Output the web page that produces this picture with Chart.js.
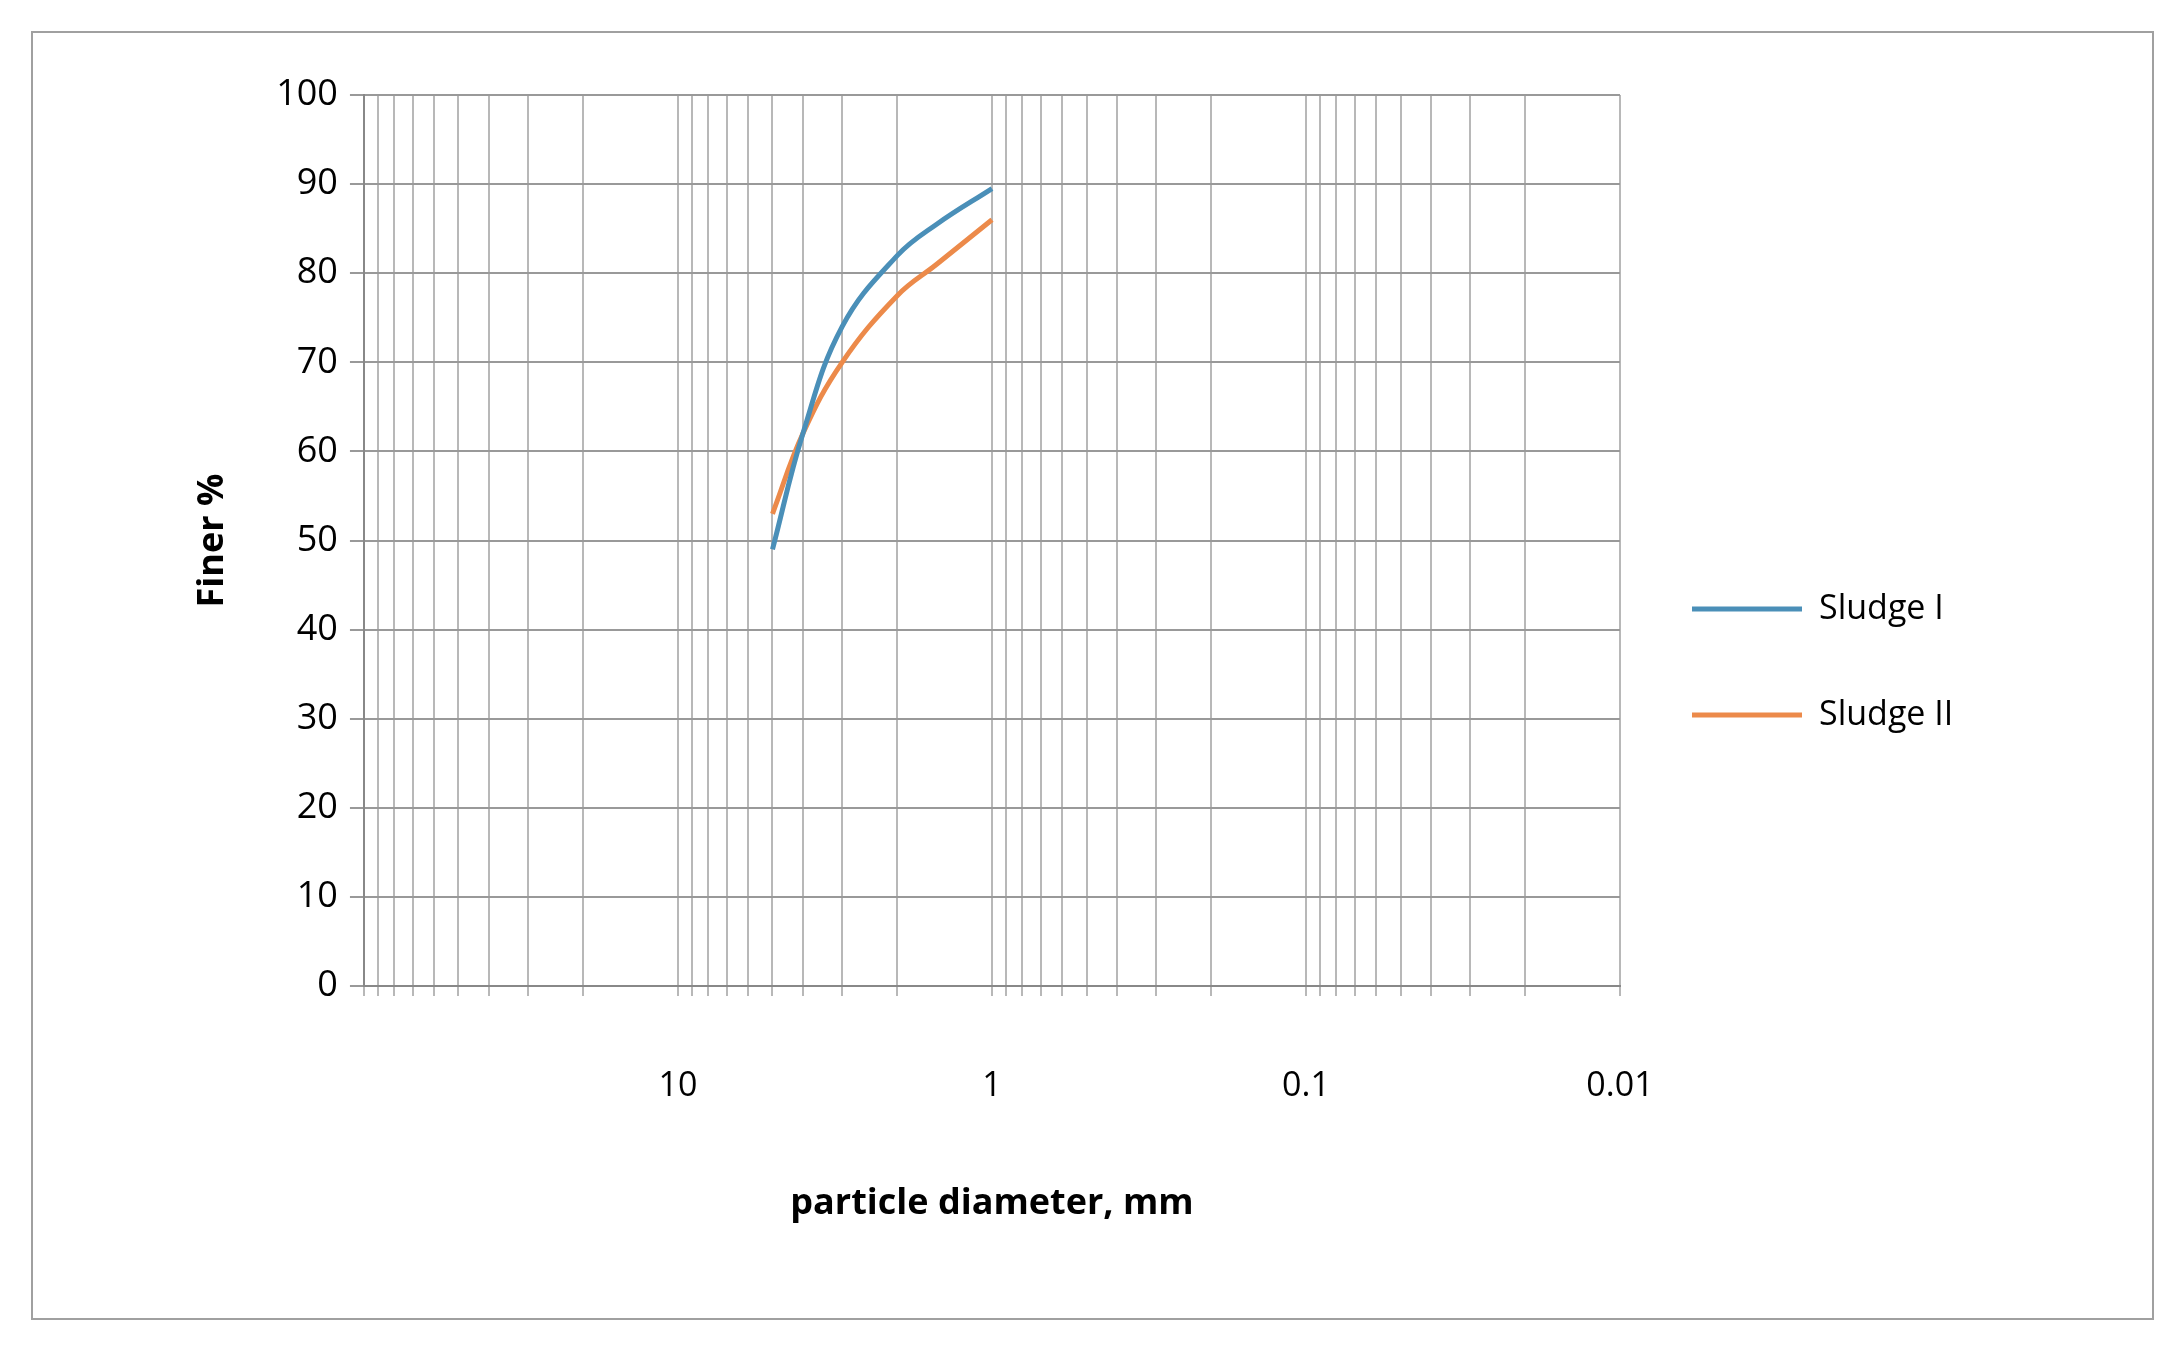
<!DOCTYPE html>
<html>
<head>
<meta charset="utf-8">
<script src="https://cdn.jsdelivr.net/npm/chart.js@4"></script>
<style>
  body { margin: 0; background: #fff; }
  #box { position: absolute; left: 31px; top: 31px; width: 2119px; height: 1285px; border: 2px solid #a0a0a0; }
  #wrap { position: absolute; left: 0; top: 0; width: 2183px; height: 1354px; }
</style>
</head>
<body>
<div id="box"></div>
<div id="wrap"><canvas id="sieve__graph"></canvas></div>
<script>
const sludge1X = [5, 4, 3, 2, 1.5, 1];
const sludge1Y = [49, 62, 74, 82, 85.5, 89.5];
const sludge2X = [5, 4, 3, 2, 1.5, 1];
const sludge2Y = [53, 62, 70, 77.5, 81, 86];
const xLabels = [10, 1, 0.1, 0.01];

const toPoints = (xs, ys) => xs.map((x, i) => ({ x: x, y: ys[i] }));

// widen the legend box so the plot area ends where it does in the original
const legendWidth = {
  id: "legendWidth",
  beforeInit(chart) {
    const fit = chart.legend.fit;
    chart.legend.fit = function () {
      fit.call(this);
      this.width = 540;
    };
  },
};

const sieveGraph = () => {
  let ctx = document.getElementById("sieve__graph").getContext("2d");
  let myChart = new Chart(ctx, {
    type: "line",
    plugins: [legendWidth],
    data: {
      datasets: [
        {
          label: "Sludge I",
          data: toPoints(sludge1X, sludge1Y),
          borderColor: "#4a8fb8",
          backgroundColor: "#4a8fb8",
          borderWidth: 5,
          pointRadius: 0,
          tension: 0.4,
        },
        {
          label: "Sludge II",
          data: toPoints(sludge2X, sludge2Y),
          borderColor: "#ec8a4a",
          backgroundColor: "#ec8a4a",
          borderWidth: 5,
          pointRadius: 0,
          tension: 0.4,
        },
      ],
    },
    options: {
      responsive: true,
      maintainAspectRatio: false,
      animation: false,
      layout: { padding: { left: 187, right: 23, top: 95, bottom: 125 } },
      plugins: {
        legend: {
          position: "right",
          labels: {
            boxWidth: 110,
            boxHeight: 0,
            padding: 72,
            color: "#000",
            font: { family: "Open Sans", size: 34 },
          },
        },
        tooltip: { enabled: false },
      },
      scales: {
        x: {
          type: "logarithmic",
          reverse: true,
          min: 0.01,
          max: 100,
          afterBuildTicks: (axis) => {
            let ticks = [];
            for (let e = -2; e < 2; e++) {
              for (let m = 1; m < 10; m++) ticks.push({ value: m * Math.pow(10, e) });
            }
            ticks.push({ value: 100 });
            axis.ticks = ticks;
          },
          ticks: {
            autoSkip: false,
            maxRotation: 0,
            padding: 70,
            color: "#000",
            font: { family: "Open Sans", size: 34 },
            callback: (v) => (xLabels.includes(Number(v.toPrecision(3))) ? String(Number(v.toPrecision(3))) : ""),
          },
          grid: { color: "#b8b8b8", lineWidth: 2, tickLength: 10 },
          border: { color: "#888", width: 2 },
          title: {
            display: true,
            text: "particle diameter, mm",
            color: "#000",
            padding: { top: 5 },
            font: { family: "Open Sans", size: 36, weight: "bold" },
          },
        },
        y: {
          min: 0,
          max: 100,
          ticks: {
            stepSize: 10,
            padding: 12,
            color: "#000",
            font: { family: "Open Sans", size: 36 },
          },
          grid: { color: "#999", lineWidth: 2, tickLength: 14 },
          border: { color: "#888", width: 2 },
          title: {
            display: true,
            text: "Finer %",
            color: "#000",
            padding: { bottom: 30 },
            font: { family: "Open Sans", size: 36, weight: "bold" },
          },
        },
      },
    },
  });
};

sieveGraph();
</script>
</body>
</html>
